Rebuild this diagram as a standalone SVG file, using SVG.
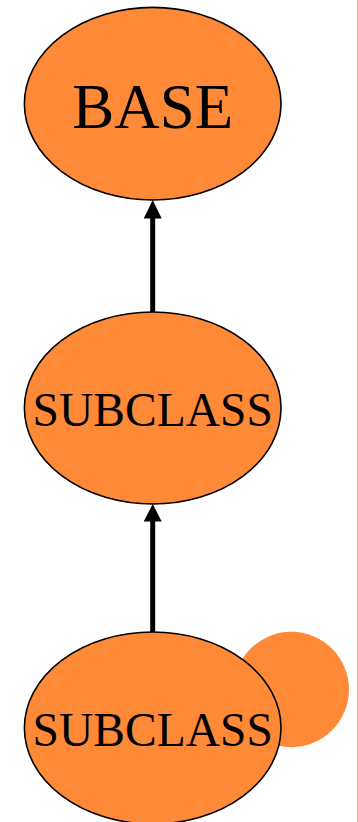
<svg xmlns="http://www.w3.org/2000/svg" width="358" height="822" viewBox="0 0 358 822">
<style>
.node{fill:#FE8937;stroke:#000;stroke-width:1.6}
.lbl{font-family:"Liberation Serif","Times New Roman",serif;fill:#000;text-anchor:middle}
.edge{stroke:#000;stroke-width:5;fill:none}
.head{fill:#000}
</style>
<rect width="358" height="822" fill="#fff"/>
<line x1="357.5" y1="0" x2="357.5" y2="822" stroke="#F3C2B4" stroke-width="1"/>
<g id="connectors">
<line class="edge" x1="152.7" y1="312" x2="152.7" y2="216"/>
<polygon class="head" points="152.7,200 161.7,218.5 143.7,218.5"/>
<line class="edge" x1="152.7" y1="632" x2="152.7" y2="519"/>
<polygon class="head" points="152.7,504 161.7,521.5 143.7,521.5"/>
</g>
<g id="self-loop-marker">
<circle cx="291.3" cy="689.5" r="57.7" fill="#FE8937"/>
</g>
<g id="base">
<ellipse class="node" cx="152.7" cy="103.7" rx="128.3" ry="96.3"/>
<text class="lbl" x="152.7" y="127.7" font-size="63">BASE</text>
</g>
<g id="subclass1">
<ellipse class="node" cx="152.7" cy="408" rx="128.3" ry="96"/>
<text class="lbl" x="152.7" y="426" font-size="47.5">SUBCLASS</text>
</g>
<g id="subclass2">
<ellipse class="node" cx="152.7" cy="728" rx="128.3" ry="96"/>
<text class="lbl" x="152.7" y="746" font-size="47.5">SUBCLASS</text>
</g>
</svg>
